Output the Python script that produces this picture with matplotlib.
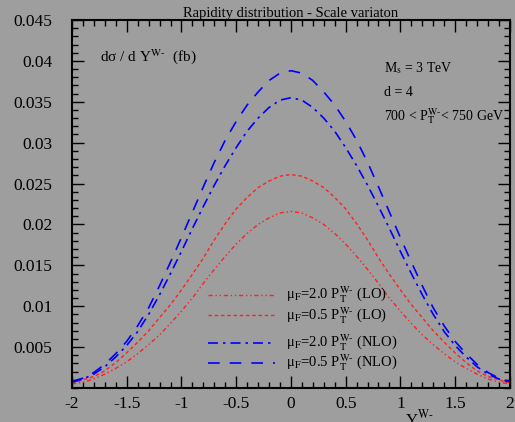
"""Rapidity distribution of the W- under scale variation (LO and NLO)."""

import matplotlib
matplotlib.use("Agg")
import matplotlib.pyplot as plt
from matplotlib.ticker import MultipleLocator, FixedLocator

plt.rcParams["font.family"] = ["Liberation Serif", "DejaVu Serif"]
plt.rcParams["mathtext.fontset"] = "stix"

# rapidity grid
rapidity = [-2.0, -1.9, -1.8, -1.7, -1.6, -1.5, -1.4, -1.3, -1.2, -1.1, -1.0,
            -0.9, -0.8, -0.7, -0.6, -0.5, -0.4, -0.3, -0.2, -0.1, 0.0,
            0.1, 0.2, 0.3, 0.4, 0.5, 0.6, 0.7, 0.8, 0.9, 1.0,
            1.1, 1.2, 1.3, 1.4, 1.5, 1.6, 1.7, 1.8, 1.9, 2.0]

# d sigma / dY (fb)
lo_mu20 = [0.0005, 0.0007, 0.0011, 0.0017, 0.0024, 0.0032, 0.0042, 0.0053, 0.0065, 0.0079, 0.0094,
           0.0110, 0.0128, 0.0145, 0.0161, 0.0176, 0.0189, 0.0200, 0.0208, 0.0214, 0.0216,
           0.0214, 0.0208, 0.0200, 0.0189, 0.0176, 0.0161, 0.0145, 0.0128, 0.0110, 0.0094,
           0.0079, 0.0065, 0.0053, 0.0042, 0.0032, 0.0024, 0.0017, 0.0011, 0.0007, 0.0005]
lo_mu05 = [0.0006, 0.0010, 0.0014, 0.0021, 0.0031, 0.0043, 0.0056, 0.0070, 0.0086, 0.0102, 0.0120,
           0.0139, 0.0159, 0.0181, 0.0201, 0.0219, 0.0233, 0.0245, 0.0253, 0.0259, 0.0261,
           0.0259, 0.0253, 0.0245, 0.0233, 0.0219, 0.0201, 0.0181, 0.0159, 0.0139, 0.0120,
           0.0102, 0.0086, 0.0070, 0.0056, 0.0043, 0.0031, 0.0021, 0.0014, 0.0010, 0.0006]
nlo_mu20 = [0.0007, 0.0011, 0.0017, 0.0026, 0.0038, 0.0052, 0.0069, 0.0090, 0.0114, 0.0140, 0.0167,
            0.0195, 0.0222, 0.0248, 0.0272, 0.0294, 0.0314, 0.0330, 0.0343, 0.0352, 0.0355,
            0.0352, 0.0343, 0.0330, 0.0314, 0.0294, 0.0272, 0.0248, 0.0222, 0.0195, 0.0167,
            0.0140, 0.0114, 0.0090, 0.0069, 0.0052, 0.0038, 0.0026, 0.0017, 0.0011, 0.0007]
nlo_mu05 = [0.0008, 0.0012, 0.0019, 0.0029, 0.0042, 0.0057, 0.0076, 0.0098, 0.0125, 0.0154, 0.0184,
            0.0215, 0.0246, 0.0276, 0.0303, 0.0326, 0.0346, 0.0362, 0.0376, 0.0385, 0.0388,
            0.0385, 0.0376, 0.0362, 0.0346, 0.0326, 0.0303, 0.0276, 0.0246, 0.0215, 0.0184,
            0.0154, 0.0125, 0.0098, 0.0076, 0.0057, 0.0042, 0.0029, 0.0019, 0.0012, 0.0008]

labels = [r"μ$_\mathrm{F}$=2.0 P$_\mathrm{T}^\mathrm{W\text{-}}$ (LO)",
          r"μ$_\mathrm{F}$=0.5 P$_\mathrm{T}^\mathrm{W\text{-}}$ (LO)",
          r"μ$_\mathrm{F}$=2.0 P$_\mathrm{T}^\mathrm{W\text{-}}$ (NLO)",
          r"μ$_\mathrm{F}$=0.5 P$_\mathrm{T}^\mathrm{W\text{-}}$ (NLO)"]

BG = "#9e9e9e"
styles = [
    dict(color="#ff2020", lw=1.0, dashes=(3, 2, 1, 2, 1, 2)),
    dict(color="#ff2020", lw=1.0, dashes=(2.5, 2)),
    dict(color="#0000ff", lw=1.2, dashes=(6, 3, 1.5, 3)),
    dict(color="#0000ff", lw=1.2, dashes=(7, 6)),
]
series = [lo_mu20, lo_mu05, nlo_mu20, nlo_mu05]

fig = plt.figure(figsize=(5.15, 4.22), dpi=100, facecolor=BG)
ax = fig.add_axes([0.1398, 0.0806, 0.8502, 0.872], facecolor=BG)

for vals, st in zip(series, styles):
    ax.plot(rapidity, vals, **st)

# hand-drawn legend in two groups (LO, NLO)
leg_y = [0.253, 0.198, 0.122, 0.068]
for y, st, lab in zip(leg_y, styles, labels):
    ax.plot([0.31, 0.463], [y, y], transform=ax.transAxes, **st)
    ax.text(0.488, y, lab, transform=ax.transAxes, va="center", ha="left", fontsize=10.5)

ax.set_xlim(-2, 2)
ax.set_ylim(0, 0.045)
ax.xaxis.set_major_locator(MultipleLocator(0.5))
ax.xaxis.set_minor_locator(MultipleLocator(0.1))
ax.yaxis.set_major_locator(FixedLocator([0.005 * i for i in range(1, 10)]))
ax.yaxis.set_minor_locator(MultipleLocator(0.001))
ax.xaxis.set_major_formatter(plt.FuncFormatter(lambda v, p: f"{v:g}"))
ax.yaxis.set_major_formatter(plt.FuncFormatter(lambda v, p: f"{round(v, 3):g}"))
ax.tick_params(which="both", direction="in", top=True, right=True, width=1.0,
               labelsize=12.5, colors="black")
ax.tick_params(which="major", length=8.5)
ax.tick_params(axis="y", which="major", pad=14)
ax.tick_params(axis="x", which="major", pad=6)
ax.tick_params(which="minor", length=4.5)
for sp in ax.spines.values():
    sp.set_linewidth(1.5)

ax.set_title("Rapidity distribution - Scale variaton", fontsize=10.5, pad=2)
ax.text(0.064, 0.90, r"dσ / d Y$^\mathrm{W\text{-}}$  (fb)", transform=ax.transAxes,
        fontsize=11, va="center", ha="left")
ax.text(0.713, 0.870, r"M$_\mathrm{s}$ = 3 TeV", transform=ax.transAxes, fontsize=10, va="center")
ax.text(0.713, 0.804, "d = 4", transform=ax.transAxes, fontsize=10, va="center")
ax.text(0.713, 0.739, r"700 < P$_\mathrm{T}^\mathrm{W\text{-}}$< 750 GeV", transform=ax.transAxes,
        fontsize=10, va="center")
fig.text(405 / 515, 1 - 409 / 422, r"Y$^\mathrm{W\text{-}}$", fontsize=12, va="top", ha="left")

fig.savefig("out.png", dpi=100, facecolor=BG)
